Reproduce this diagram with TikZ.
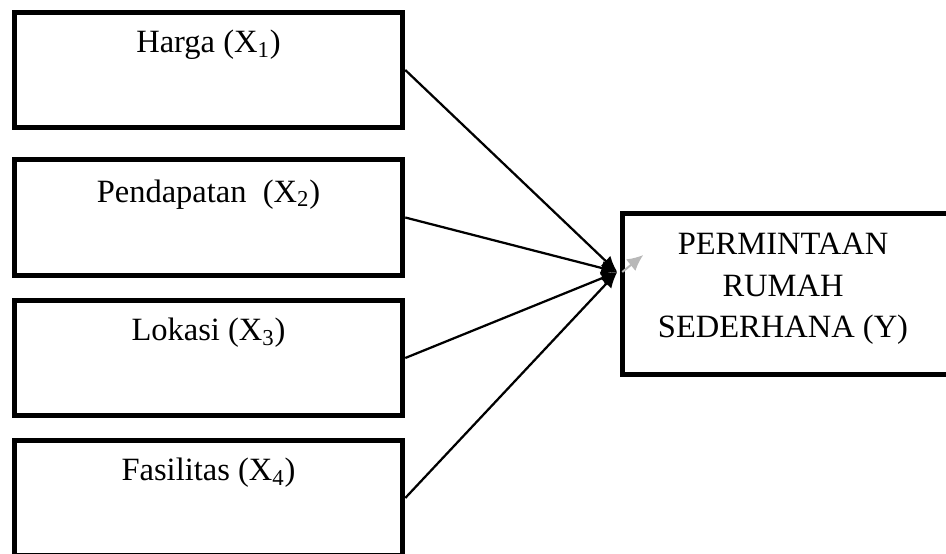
\documentclass[tikz,border=0pt]{standalone}
\usepackage{fontspec}
\setmainfont{Liberation Serif}
\usetikzlibrary{arrows.meta,positioning,calc}
\tikzset{
  varbox/.style={draw, line width=0.11cm, minimum width=7.76cm, minimum height=#1},
  vartext/.style={anchor=base, font=\fontsize{18.5}{23.6}\selectfont, inner sep=0pt},
  depbox/.style={draw, line width=0.11cm, minimum width=6.7cm, minimum height=3.22cm},
  deptext/.style={font=\fontsize{18.5}{23.6}\selectfont, align=center, inner sep=0pt},
  pathline/.style={line width=0.045cm, -{Latex[length=0.32cm, width=0.28cm]}},
}
\begin{document}
\begin{tikzpicture}
\clip (0,0) rectangle (18.92,-11.06);
% Independent variables on the left
\node[varbox=2.30cm] (harga) at (4.17,-1.40) {};
\node[vartext] (hargatxt) at ([yshift=-0.86cm]harga.north) {Harga (X\textsubscript{1})};
\node[varbox=2.32cm] (pendapatan) at (4.17,-4.35) {};
\node[vartext] (pendapatantxt) at ([yshift=-0.91cm]pendapatan.north) {Pendapatan\ \ (X\textsubscript{2})};
\node[varbox=2.30cm] (lokasi) at (4.17,-7.16) {};
\node[vartext] (lokasitxt) at ([yshift=-0.86cm]lokasi.north) {Lokasi (X\textsubscript{3})};
\node[varbox=2.30cm] (fasilitas) at (4.17,-9.96) {};
\node[vartext] (fasilitastxt) at ([yshift=-0.86cm]fasilitas.north) {Fasilitas (X\textsubscript{4})};
% Dependent variable on the right
\node[depbox] (permintaan) at (15.80,-5.88) {};
\node[deptext] (permintaantxt) at ([xshift=-0.14cm, yshift=0.10cm]permintaan.center) {PERMINTAAN\\RUMAH\\SEDERHANA (Y)};
\coordinate (tip) at ([yshift=0.44cm, xshift=-0.05cm]permintaan.west);
% Arrows into Y
\foreach \v in {harga, pendapatan, lokasi, fasilitas}
  \draw[pathline] (\v.east) -- (tip);
\draw[line width=0.04cm, black!28, -{Latex[length=0.32cm, width=0.3cm]}] ([xshift=0.1cm]tip) -- ++(0.42,0.34);
\end{tikzpicture}
\end{document}
